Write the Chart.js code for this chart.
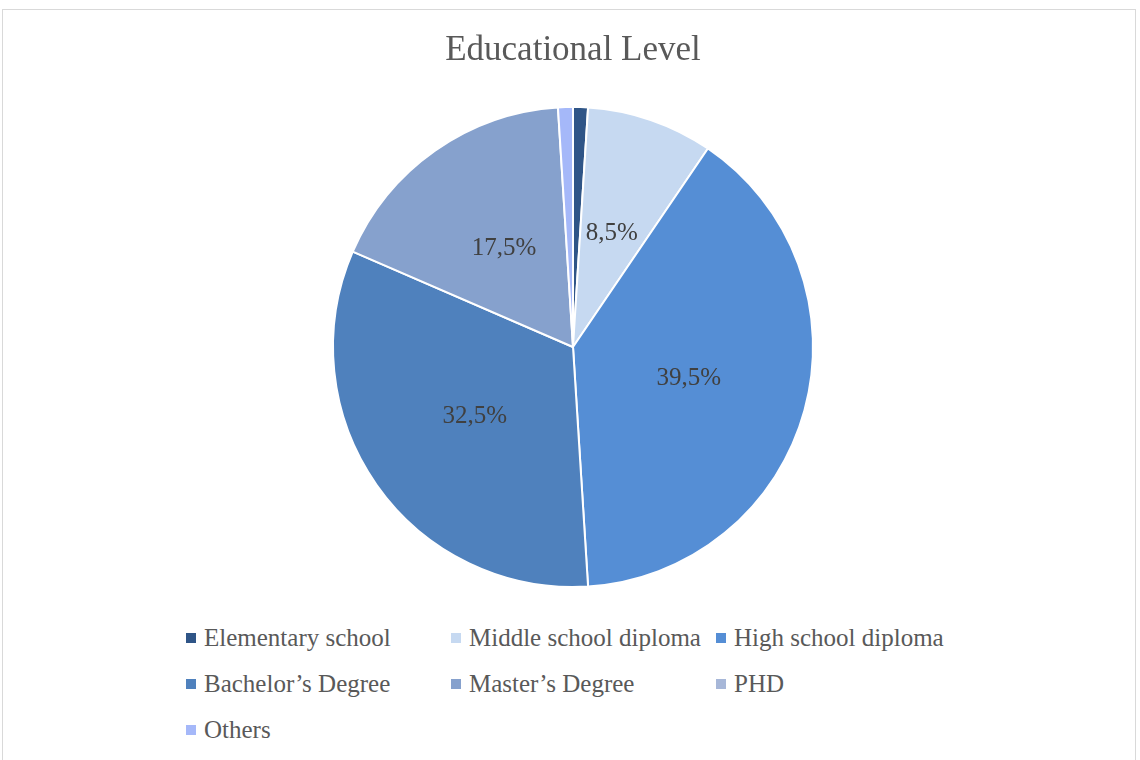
<!DOCTYPE html>
<html>
<head>
<meta charset="utf-8">
<script src="https://cdn.jsdelivr.net/npm/chart.js@4"></script>
<style>
  html, body { margin: 0; padding: 0; background: #fff; }
  body { width: 1140px; height: 760px; position: relative; overflow: hidden; }
  #frame {
    position: absolute; left: 2px; top: 9px; width: 1134px; height: 800px;
    border: 1px solid #d9d9d9; box-sizing: border-box;
  }
  #wrap { position: absolute; left: 0; top: 0; width: 1140px; height: 600px; }
  #legend {
    position: absolute; left: 186px; top: 615px;
    display: grid; grid-template-columns: 265px 265px 265px; grid-auto-rows: 46px;
    font-family: "Liberation Serif", "DejaVu Serif", serif; font-size: 25px; color: #595959;
  }
  .item { display: flex; align-items: center; white-space: nowrap; }
  .box { width: 10px; height: 10px; margin-right: 8px; flex: none; }
</style>
</head>
<body>
<div id="frame"></div>
<div id="wrap"><canvas id="viz1"></canvas></div>
<div id="legend"></div>
<script>
// datos
const categories = ['Elementary school', 'Middle school diploma', 'High school diploma',
  "Bachelor\u2019s Degree", "Master\u2019s Degree", 'PHD', 'Others'];
const percentages = [1, 8.5, 39.5, 32.5, 17.5, 0, 1];
const sliceColors = ['#2f5587', '#c6d9f1', '#558ed5', '#4f81bd', '#86a1cd', '#a7b7d8', '#a5b8f9'];

// etiquetas dentro de las porciones
const pieLabels = {
  id: 'pieLabels',
  afterDatasetsDraw(chart) {
    const ctx = chart.ctx;
    const meta = chart.getDatasetMeta(0);
    ctx.save();
    ctx.font = '25px "Liberation Serif", serif';
    ctx.fillStyle = '#404040';
    ctx.textAlign = 'center';
    ctx.textBaseline = 'middle';
    meta.data.forEach(function(arc, i) {
      const v = percentages[i];
      if (v < 5) return;
      const p = arc.tooltipPosition();
      ctx.fillText(v.toFixed(1).replace('.', ',') + '%', p.x, p.y);
    });
    ctx.restore();
  }
};

const ctx1 = document.getElementById('viz1').getContext('2d');
const chart1 = new Chart(ctx1, {
  type: 'pie',
  data: {
    labels: categories,
    datasets: [{
      data: percentages,
      backgroundColor: sliceColors,
      borderColor: '#ffffff',
      borderWidth: 2
    }]
  },
  options: {
    responsive: true,
    maintainAspectRatio: false,
    animation: false,
    layout: { padding: { left: 6, right: 0, top: 0, bottom: 12 } },
    plugins: {
      legend: { display: false },
      tooltip: { enabled: false },
      title: {
        display: true,
        text: 'Educational Level',
        color: '#595959',
        font: { family: '"Liberation Serif", serif', size: 35, weight: 'normal' },
        padding: { top: 30, bottom: 34 }
      }
    }
  },
  plugins: [pieLabels]
});

// leyenda en rejilla
const legend = document.getElementById('legend');
categories.forEach(function(name, i) {
  const item = document.createElement('div');
  item.className = 'item';
  const box = document.createElement('span');
  box.className = 'box';
  box.style.background = sliceColors[i];
  const txt = document.createElement('span');
  txt.textContent = name;
  item.appendChild(box);
  item.appendChild(txt);
  legend.appendChild(item);
});
</script>
</body>
</html>
